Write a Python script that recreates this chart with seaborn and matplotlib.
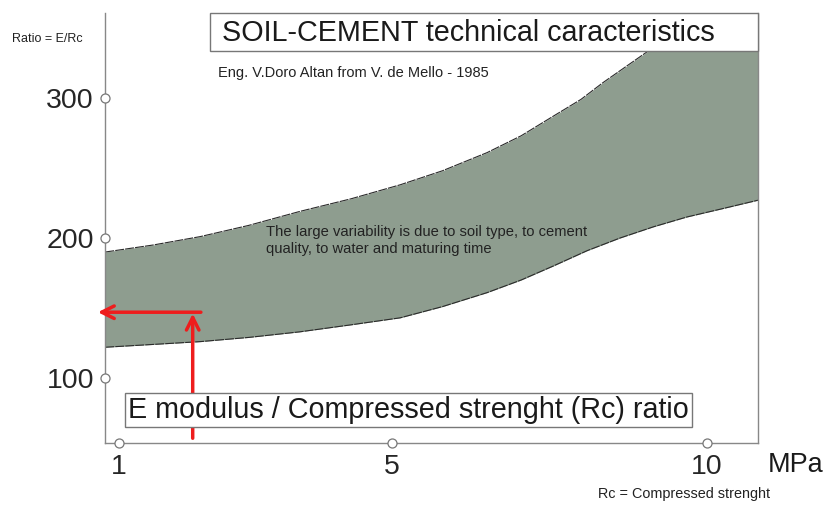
import numpy as np
import matplotlib
matplotlib.use("Agg")
import matplotlib.pyplot as plt
import seaborn as sns

# band limits (Rc in MPa, ratio E/Rc)
rc_up = [0.8, 1.5, 2.19, 2.9, 3.65, 4.4, 5.13, 5.8, 6.51, 7.05, 7.56, 8.0, 8.35, 8.7, 9.05, 10.81]
ratio_up = [190, 195, 201, 209, 219, 228, 238, 248, 261, 273, 287, 299, 311, 322, 333, 395]
rc_low = [0.8, 1.5, 2.19, 2.9, 3.65, 4.4, 5.13, 5.8, 6.51, 7.05, 7.56, 8.1, 8.62, 9.15, 9.68, 10.25, 10.81]
ratio_low = [122, 124, 126, 129, 133, 138, 143, 151, 161, 170, 180, 191, 200, 208, 215, 221, 227]

x_ticks = [1, 5, 10]
y_ticks = [100, 200, 300]
example_rc = 2.08
example_ratio = 147


# hand drawn x axis: 1..5 and 5..10 are not the same width
def fwd(x):
    x = np.asarray(x, dtype=float)
    return np.where(x <= 5, (x - 1) * 68.25, 273 + (x - 5) * 63.0)


def inv(p):
    p = np.asarray(p, dtype=float)
    return np.where(p <= 273, 1 + p / 68.25, 5 + (p - 273) / 63.0)


sns.set_style("white")
plt.rcParams['font.family'] = ['Liberation Sans', 'DejaVu Sans']

fig = plt.figure(figsize=(8.24, 5.05), dpi=100)
ax = fig.add_axes([105 / 824, 1 - 443 / 505, 653 / 824, 430 / 505])
ax.set_xscale('function', functions=(fwd, inv))

grid = np.union1d(rc_up, rc_low)
up_i = np.interp(grid, rc_up, ratio_up)
low_i = np.interp(grid, rc_low, ratio_low)
ax.fill_between(grid, low_i, up_i, color='#8e9d8f', lw=0, zorder=1)
sns.lineplot(x=rc_up, y=ratio_up, ax=ax, color='#2a2a2a', lw=0.8, ls=(0, (8, 1)), sort=False, zorder=2)
sns.lineplot(x=rc_low, y=ratio_low, ax=ax, color='#2a2a2a', lw=0.8, ls=(0, (8, 1)), sort=False, zorder=2)

ax.set_xlim(0.795, 10.81)
ax.set_ylim(53.6, 360.7)

for s in ['left', 'bottom', 'right']:
    ax.spines[s].set_color('#888888')
    ax.spines[s].set_linewidth(1.0)
ax.spines['top'].set_visible(False)

ax.set_xticks(x_ticks)
ax.set_yticks(y_ticks)
ax.set_xticklabels([str(v) for v in x_ticks], fontsize=20.5)
ax.set_yticklabels([str(v) for v in y_ticks], fontsize=20.5)
ax.tick_params(axis='x', length=0, pad=8)
ax.tick_params(axis='y', length=0, pad=8)

# open circles as tick marks
ax.plot(x_ticks, [53.6] * 3, 'o', mfc='white', mec='#777777', ms=6.5, mew=0.9, clip_on=False, zorder=5)
ax.plot([0.795] * 3, y_ticks, 'o', mfc='white', mec='#777777', ms=6.5, mew=0.9, clip_on=False, zorder=5)

# red reading arrows
arrow = dict(arrowstyle='->, head_length=0.9, head_width=0.45', color='#ee1d1d', lw=2.5,
             shrinkA=0, shrinkB=0)
ax.annotate('', xy=(example_rc, example_ratio - 1), xytext=(example_rc, 57),
            arrowprops=arrow, annotation_clip=False, zorder=6)
ax.annotate('', xy=(0.69, example_ratio), xytext=(2.2, example_ratio),
            arrowprops=arrow, annotation_clip=False, zorder=6)

# title box
fig.text(222 / 824, 1 - 33 / 505, 'SOIL-CEMENT technical caracteristics', fontsize=20.7,
         va='center', ha='left', color='#1a1a1a')
fig.patches.append(plt.Rectangle((210 / 824, 1 - 51 / 505), 548 / 824, 38 / 505,
                                 transform=fig.transFigure, fc='white', ec='#777777', lw=1.0, zorder=0.5))
fig.text(218 / 824, 1 - 73 / 505, 'Eng. V.Doro Altan from V. de Mello - 1985', fontsize=10.5,
         va='center', ha='left', color='#222222')

# bottom box
fig.text(128 / 824, 1 - 410 / 505, 'E modulus / Compressed strenght (Rc) ratio', fontsize=20.7,
         va='center', ha='left', color='#1a1a1a',
         bbox=dict(boxstyle='square,pad=0.12', fc='white', ec='#777777', lw=1.0), zorder=4)

ax.text(3.15, 198, 'The large variability is due to soil type, to cement\nquality, to water and maturing time',
        fontsize=10.6, va='center', ha='left', color='#222222', linespacing=1.25, zorder=3)

fig.text(12 / 824, 1 - 39 / 505, 'Ratio = E/Rc', fontsize=9, va='center', ha='left', color='#222222')
fig.text(768 / 824, 1 - 465 / 505, 'MPa', fontsize=19.5, va='center', ha='left', color='#1a1a1a')
fig.text(598 / 824, 1 - 494 / 505, 'Rc = Compressed strenght', fontsize=10.4, va='center', ha='left', color='#222222')

fig.savefig('out.png', dpi=100)
